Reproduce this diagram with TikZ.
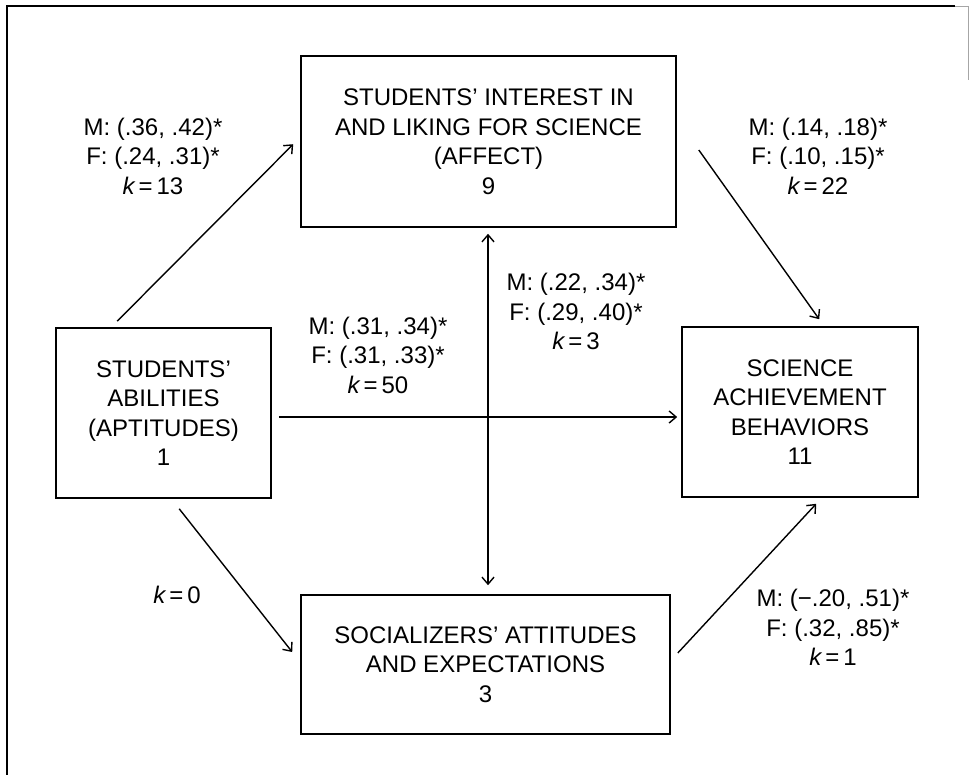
\documentclass[tikz,border=0pt]{standalone}
\usepackage{fontspec}
\setmainfont{Liberation Sans}
\usetikzlibrary{arrows.meta}
\newcommand{\lblfont}{\fontsize{24}{29.5}\selectfont}
\newcommand{\kval}[1]{{\itshape k}\,=\,#1}
\begin{document}
\begin{tikzpicture}[x=1pt,y=-1pt,
  box/.style={draw, line width=1.6pt, inner sep=0pt, align=center, font=\lblfont},
  lab/.style={inner sep=0pt, align=center, font=\lblfont},
  arr/.style={line width=1.4pt, -{Straight Barb[length=7pt,width=12pt]}},
  dbl/.style={line width=1.4pt, {Straight Barb[length=7pt,width=12pt]}-{Straight Barb[length=7pt,width=12pt]}},
  frame/.style={line width=2.5pt}]
\fill[white] (0,0) rectangle (969,775);
\useasboundingbox (0,0) rectangle (969,775);

% outer frame
\draw[frame] (7,775) -- (7,6) -- (955,6);
\draw[line width=0.8pt, black!35] (955,6) -- (968,6) -- (968,80);

% boxes
\node[box, minimum width=375pt, minimum height=171pt] (affect) at (488.5,141.5)
  {STUDENTS’ INTEREST IN\\AND LIKING FOR SCIENCE\\(AFFECT)\\9};
\node[box, minimum width=215pt, minimum height=170pt] (abil) at (163.5,413)
  {STUDENTS’\\ABILITIES\\(APTITUDES)\\1};
\node[box, minimum width=236pt, minimum height=170pt] (sci) at (800,412)
  {SCIENCE\\ACHIEVEMENT\\BEHAVIORS\\11};
\node[box, minimum width=369pt, minimum height=139pt] (soc) at (485.5,664.5)
  {SOCIALIZERS’ ATTITUDES\\AND EXPECTATIONS\\3};

% path labels
\node[lab] (lab1) at (153,156) {M: (.36, .42)*\\F: (.24, .31)*\\\kval{13}};
\node[lab] (lab2) at (818,156) {M: (.14, .18)*\\F: (.10, .15)*\\\kval{22}};
\node[lab] (lab3) at (378,355) {M: (.31, .34)*\\F: (.31, .33)*\\\kval{50}};
\node[lab] (lab4) at (576,311.5) {M: (.22, .34)*\\F: (.29, .40)*\\\kval{3}};
\node[lab] (lab5) at (177,595) {\kval{0}};
\node[lab] (lab6) at (833,627.5) {M: (−.20, .51)*\\F: (.32, .85)*\\\kval{1}};

% connectors
\draw[arr] ([shift={(62,-6)}]abil.north west) -- ([shift={(-7,89)}]affect.north west);
\draw[arr] ([shift={(22,8.5)}]affect.east) -- ([shift={(138,-7)}]sci.north west);
\draw[arr] ([shift={(7,4)}]abil.east) -- ([shift={(-4,5)}]sci.west);
\draw[dbl] ([shift={(-0.5,6)}]affect.south) -- ([shift={(2.5,-9)}]soc.north);
\draw[arr] ([shift={(124,10)}]abil.south west) -- ([shift={(-8,-12.5)}]soc.west);
\draw[arr] ([shift={(7,-11.5)}]soc.east) -- ([shift={(135,6)}]sci.south west);
\end{tikzpicture}
\end{document}
